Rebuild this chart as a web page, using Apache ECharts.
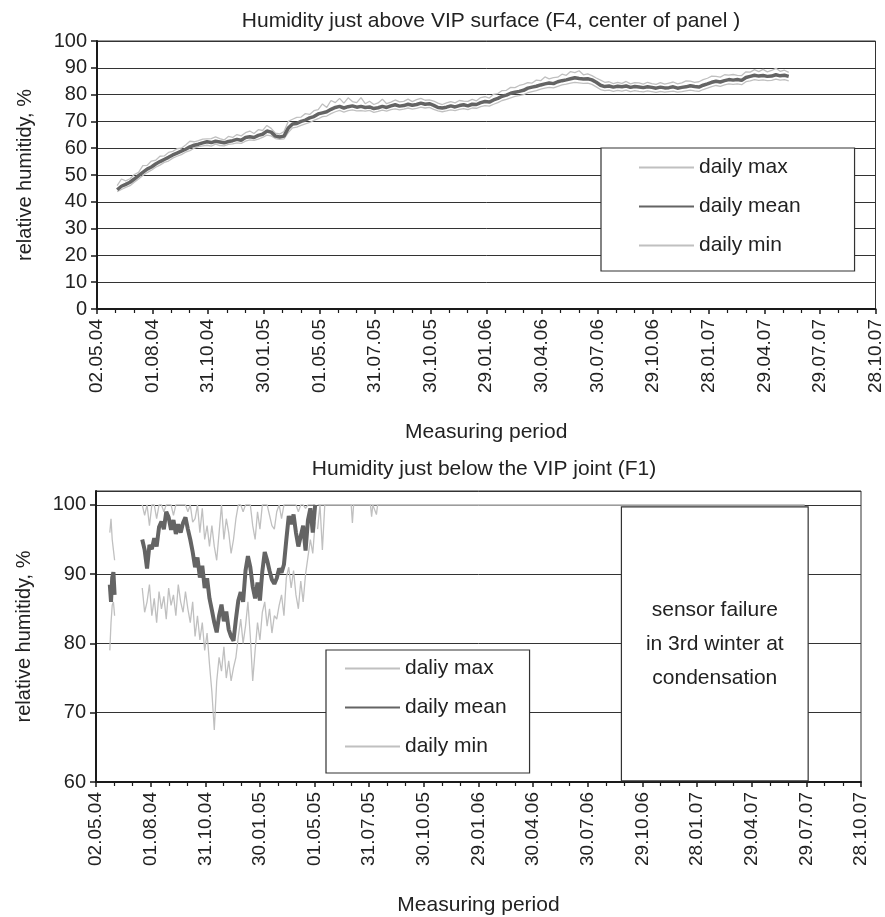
<!DOCTYPE html>
<html>
<head>
<meta charset="utf-8">
<script src="https://cdn.jsdelivr.net/npm/echarts@6/dist/echarts.min.js"></script>
<style>
html,body{margin:0;padding:0;background:#fff;}
#chart{width:885px;height:917px;}
</style>
</head>
<body>
<div id="chart"></div>
<script>
// ---------- data ----------
const tickLabels = ['02.05.04','01.08.04','31.10.04','30.01.05','01.05.05','31.07.05','30.10.05','29.01.06','30.04.06','30.07.06','29.10.06','28.01.07','29.04.07','29.07.07','28.10.07'];
const tickStepDays = 91;           // days between labelled ticks (day 0 = 02.05.04)
const axisEndDay = 1274;

// Top chart: F4, weekly readings starting 04.06.04
const f4StartDay = 33, f4StepDays = 7;
const f4Mean = [44.5,45.8,46.5,47.3,48.5,49.8,51.0,52.2,53.0,54.1,55.0,55.8,56.6,57.5,58.2,58.9,59.6,60.5,61.1,61.5,
62.0,62.4,62.1,62.6,62.3,62.0,62.5,62.8,63.3,63.0,64.0,64.3,64.0,64.8,65.2,66.4,66.0,64.5,64.2,64.5,
67.5,69.0,69.2,70.0,70.5,71.3,71.8,72.8,73.2,73.6,74.5,75.2,75.6,75.0,75.5,75.8,75.3,75.6,75.2,75.4,
74.8,75.1,75.6,75.2,75.8,76.2,75.7,75.9,76.4,76.0,76.3,76.8,76.4,76.6,76.0,75.2,75.0,75.3,75.8,75.4,
75.9,76.2,75.8,76.4,76.3,77.0,77.4,77.2,78.0,78.6,79.4,79.8,80.5,80.9,81.2,81.6,82.4,82.8,83.1,83.6,
84.0,84.3,84.1,84.8,85.2,85.5,85.9,86.3,86.0,85.8,85.9,85.5,84.6,83.5,83.0,83.2,82.8,83.1,82.9,83.2,
82.7,83.0,82.8,82.6,82.9,82.7,82.4,82.8,82.5,82.6,82.9,82.4,82.7,82.9,83.3,83.0,82.8,83.5,84.0,84.6,
85.0,84.7,85.2,85.6,85.4,85.6,85.3,86.4,86.8,87.2,86.9,87.1,86.8,86.9,87.4,87.0,87.2,86.8];
const f4Max = [46.0,48.5,47.8,48.6,50.2,51.0,53.5,53.6,55.2,55.5,57.0,57.1,58.4,58.8,59.8,60.0,61.2,62.6,62.4,62.8,
63.4,63.5,63.6,64.2,63.6,63.1,64.4,64.0,65.1,64.6,65.8,66.4,65.5,66.9,66.6,68.5,67.4,65.6,65.3,66.2,
70.0,70.8,71.5,71.6,72.9,72.6,74.0,74.4,76.5,75.2,77.8,77.0,78.6,76.8,78.8,77.4,77.0,78.9,76.6,77.5,
76.3,76.9,78.3,76.6,77.2,78.0,77.3,77.5,78.3,77.4,78.1,78.6,77.9,78.0,77.6,76.8,76.3,76.9,77.4,76.9,
77.8,77.6,77.5,78.2,77.7,78.9,79.2,78.7,80.1,80.4,81.5,81.6,82.7,82.6,83.4,83.8,84.5,84.3,85.4,85.2,
86.6,85.9,86.3,86.5,87.6,87.2,88.6,88.2,88.9,87.4,87.7,87.1,86.2,85.4,84.6,84.8,84.1,84.6,84.2,84.9,
84.0,84.5,84.4,83.9,84.6,84.1,83.8,84.5,83.9,84.3,84.7,84.0,84.4,85.1,85.0,84.6,84.8,85.6,86.1,86.9,
86.8,86.5,87.4,87.3,87.5,87.2,87.1,88.5,88.4,89.3,88.6,89.4,88.5,89.0,89.8,88.7,89.1,88.3];
const f4Min = [43.8,44.6,45.4,46.0,47.3,48.5,49.8,50.9,51.8,52.9,53.7,54.7,55.2,56.3,57.0,57.6,58.5,59.1,60.0,60.6,
60.9,61.1,60.8,61.5,61.0,60.9,61.4,61.6,62.0,61.8,62.6,63.1,62.9,63.4,64.0,64.9,64.6,63.6,63.3,63.5,
65.8,67.6,67.9,68.5,69.1,69.6,70.4,71.0,71.8,72.0,72.9,73.6,74.1,73.5,74.0,74.3,73.9,74.0,73.8,74.1,
73.4,73.7,74.2,73.8,74.4,74.7,74.3,74.6,75.0,74.6,74.9,75.3,75.0,75.2,74.5,73.9,73.6,73.9,74.3,74.0,
74.5,74.8,74.4,75.0,74.9,75.5,75.9,75.7,76.4,77.0,77.8,78.2,78.8,79.3,79.6,80.0,80.7,81.1,81.5,82.0,
82.4,82.7,82.5,83.1,83.6,83.9,84.3,84.6,84.4,84.2,84.3,83.8,82.9,81.9,81.5,81.7,81.2,81.6,81.3,81.7,
81.1,81.5,81.2,81.0,81.4,81.1,80.8,81.2,80.9,81.1,81.3,80.9,81.1,81.4,81.7,81.4,81.2,81.9,82.4,83.0,
83.4,83.1,83.6,84.0,83.8,84.0,83.7,84.8,85.1,85.6,85.3,85.5,85.2,85.3,85.8,85.4,85.6,85.1];

// Bottom chart: F1
// short first stretch (June 2004)
const f1StubStart = 23, f1StubStep = 2;
const f1StubMean = [88.5,86.0,89.5,90.3,87.0];
const f1StubMax  = [96.0,98.0,95.0,93.5,92.0];
const f1StubMin  = [79.0,83.0,85.5,86.0,84.0];
// first winter, readings every 4 days from 18.07.04
const f1WinterStart = 77, f1WinterStep = 4;
const f1WinterMean = [95.0,93.5,90.8,94.2,93.6,95.2,94.0,96.8,97.6,96.5,99.0,98.2,96.4,97.8,95.8,97.2,96.0,97.4,98.2,96.5,
95.0,93.2,91.0,92.4,89.5,91.2,88.0,89.4,86.5,84.8,83.0,81.6,84.0,85.6,83.2,84.6,82.0,81.0,80.4,83.5,
86.2,87.4,86.0,90.5,92.6,91.0,88.2,86.5,88.8,86.2,90.4,93.2,92.0,90.5,89.2,88.6,89.4,90.8,90.2,91.4,
95.0,98.4,97.2,98.6,96.0,94.0,95.5,97.0,93.4,97.8,99.5,96.0,100];
const f1WinterMax = [100,98.5,100,97.0,100,100,98.0,100,100,99.0,100,100,100,98.5,100,100,100,100,100,99.0,
100,97.5,98.0,100,96.0,99.5,95.0,97.0,94.0,97.0,94.0,92.0,96.0,100,95.0,98.0,96.0,93.0,95.0,98.0,
100,100,99.0,100,100,100,97.0,95.0,99.0,96.5,100,100,100,98.5,97.0,96.5,99.0,100,98.0,100,
100,100,100,100,100,99.0,100,100,99.5,100,100,100,100];
const f1WinterMin = [88.0,84.5,86.0,88.5,84.0,86.5,83.0,87.5,85.0,86.8,83.5,88.0,85.5,87.0,84.0,88.5,86.0,84.5,87.5,85.0,
83.0,86.0,81.0,84.0,80.5,83.0,79.0,81.5,77.0,73.0,67.5,74.5,78.0,76.0,79.5,75.0,77.5,74.6,76.5,78.0,
81.0,83.5,80.0,82.5,86.0,81.0,74.6,79.0,83.0,80.5,84.5,86.0,82.5,85.0,81.5,84.0,83.5,85.5,87.0,84.0,
89.5,91.0,88.0,90.5,87.0,85.0,89.0,86.0,90.0,92.5,95.0,93.0,97.5];
// saturated period afterwards (only max/min recorded): [day, value]
const f1FlatMax  = [[369,100],[1180,100]];
const f1FlatMin  = [[369,96.5],[373,100],[377,93.5],[381,100],[425,100],[427,97.4],[429,100],[457,100],[459,98.3],[461,100],[467,98.6],[469,100],[1180,100]];
// annotation box: sensor failure
const failureStartDay = 875, failureEndDay = 1186, failureTop = 99.7, failureBottom = 60.15;
const failureText = 'sensor failure\nin 3rd winter at\ncondensation';

// ---------- helpers ----------
function pairs(start, step, arr){ return arr.map((v,i)=>[start+i*step, v]); }
function joinSegments(){ const out=[]; for(let i=0;i<arguments.length;i++){ if(i>0) out.push([arguments[i][0][0]-1, null]); out.push(...arguments[i]); } return out; }

const FONT = 'Liberation Sans, Arial, sans-serif';
const DARK = '#646464', LIGHT = '#c0c0c0', INK = '#1a1a1a';

function xAxisFor(gi){
  return {
    type:'value', gridIndex:gi, min:0, max:axisEndDay, interval:tickStepDays,
    axisLine:{show:true, onZero:false, lineStyle:{color:INK, width:2}},
    axisTick:{show:true, length:5, lineStyle:{color:INK, width:1.5}},
    minorTick:{show:true, splitNumber:3, length:4, lineStyle:{color:INK, width:1.2}},
    splitLine:{show:false},
    axisLabel:{rotate:90, margin:10, fontSize:19, color:'#222', fontFamily:FONT,
      formatter:v=>{const k=Math.round(v/tickStepDays); return Math.abs(k*tickStepDays-v)<0.5 ? (tickLabels[k]||'') : '';}},
    name:'Measuring period', nameLocation:'middle', nameGap:113,
    nameTextStyle:{fontSize:21, color:'#222', fontFamily:FONT}
  };
}
function yAxisFor(gi, min, max){
  return {
    type:'value', gridIndex:gi, min:min, max:max, interval:10,
    axisLine:{show:true, lineStyle:{color:INK, width:2}},
    axisTick:{show:true, length:6, lineStyle:{color:INK, width:1.5}},
    splitLine:{show:true, lineStyle:{color:'#333', width:1}},
    axisLabel:{fontSize:20, color:'#222', fontFamily:FONT, margin:10, showMaxLabel: max===100},
    name:'relative humitidy, %', nameLocation:'middle', nameGap:62,
    nameTextStyle:{fontSize:20, color:'#222', fontFamily:FONT}
  };
}
function lineSeries(name, xi, data, color, width, z){
  return {name:name, type:'line', xAxisIndex:xi, yAxisIndex:xi, data:data, symbol:'none',
    showSymbol:false, connectNulls:false, animation:false, z:z,
    lineStyle:{color:color, width:width}, itemStyle:{color:color}};
}
function legendFor(names, left, top, padding){
  return {
    data:names, orient:'vertical', left:left, top:top, padding:padding,
    itemWidth:55, itemHeight:14, itemGap:18,
    backgroundColor:'#fff', borderColor:'#333', borderWidth:1.2,
    itemStyle:{opacity:0}, lineStyle:{opacity:1},
    textStyle:{fontSize:21, color:'#222', fontFamily:FONT, lineHeight:20},
    formatter:n=>n.trim(), selectedMode:false
  };
}

const chart = echarts.init(document.getElementById('chart'), null, {renderer:'canvas'});
const option = {
  backgroundColor:'#fff',
  animation:false,
  title:[
    {text:'Humidity just above VIP surface (F4, center of panel )', left:486, top:6, textAlign:'center',
     textStyle:{fontSize:21, fontWeight:'normal', color:'#222', fontFamily:FONT}},
    {text:'Humidity just below the VIP joint (F1)', left:479, top:454, textAlign:'center',
     textStyle:{fontSize:21, fontWeight:'normal', color:'#222', fontFamily:FONT}}
  ],
  grid:[
    {left:97, right:9, top:41, height:268, show:true, borderColor:'#333', borderWidth:1, backgroundColor:'#fff'},
    {left:96, right:24, top:491, height:294, show:true, borderColor:'#333', borderWidth:1, backgroundColor:'#fff'}
  ],
  xAxis:[xAxisFor(0), xAxisFor(1)],
  yAxis:[yAxisFor(0,0,100), yAxisFor(1,60,102)],
  legend:[
    legendFor(['daily max','daily mean','daily min'], 601, 148, [9,54,15,37]),
    legendFor(['daliy max','daily mean ','daily min '], 326, 650, [8,23,16,18])
  ],
  series:[
    lineSeries('daily max', 0, pairs(f4StartDay,f4StepDays,f4Max), LIGHT, 1.3, 2),
    lineSeries('daily mean', 0, pairs(f4StartDay,f4StepDays,f4Mean), DARK, 3.5, 4),
    lineSeries('daily min', 0, pairs(f4StartDay,f4StepDays,f4Min), LIGHT, 1.3, 2),
    lineSeries('daliy max', 1, joinSegments(pairs(f1StubStart,f1StubStep,f1StubMax), pairs(f1WinterStart,f1WinterStep,f1WinterMax), f1FlatMax), LIGHT, 1.3, 2),
    lineSeries('daily mean ', 1, joinSegments(pairs(f1StubStart,f1StubStep,f1StubMean), pairs(f1WinterStart,f1WinterStep,f1WinterMean)), DARK, 4, 4),
    lineSeries('daily min ', 1, joinSegments(pairs(f1StubStart,f1StubStep,f1StubMin), pairs(f1WinterStart,f1WinterStep,f1WinterMin), f1FlatMin), LIGHT, 1.3, 2)
  ]
};
chart.setOption(option);

// annotation box placed through the bottom chart's own scales
const p1 = chart.convertToPixel({xAxisIndex:1, yAxisIndex:1}, [failureStartDay, failureTop]);
const p2 = chart.convertToPixel({xAxisIndex:1, yAxisIndex:1}, [failureEndDay, failureBottom]);
chart.setOption({graphic:[
  {type:'rect', z:100, shape:{x:p1[0], y:p1[1], width:p2[0]-p1[0], height:p2[1]-p1[1]},
   style:{fill:'#fff', stroke:'#333', lineWidth:1.2}},
  {type:'text', z:101, x:(p1[0]+p2[0])/2, y:(p1[1]+p2[1])/2,
   style:{text:failureText, align:'center', verticalAlign:'middle', lineHeight:34,
          font:'21px Liberation Sans, Arial, sans-serif', fill:'#222'}}
]});
</script>
</body>
</html>
